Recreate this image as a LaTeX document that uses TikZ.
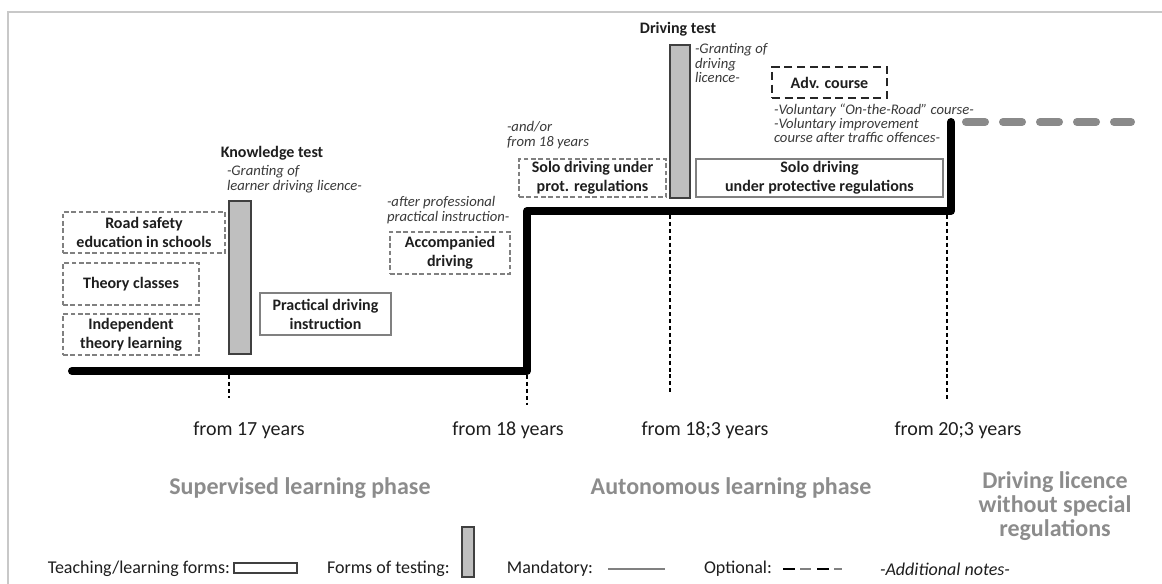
\documentclass[tikz,border=0pt]{standalone}
\usepackage{fontspec}
\setmainfont{Carlito}
\usetikzlibrary{fit}
\definecolor{framegray}{HTML}{C8C8C8}
\definecolor{boxgray}{HTML}{808080}
\definecolor{barfill}{HTML}{BFBFBF}
\definecolor{bardraw}{HTML}{404040}
\definecolor{notegray}{HTML}{3A3A3A}
\definecolor{phasegray}{HTML}{8C8C8C}
\definecolor{dashgray}{HTML}{8A8A8A}
\definecolor{txtdark}{HTML}{1E1E1E}
\begin{document}
\begin{tikzpicture}[x=0.75pt,y=-0.75pt,
  every node/.style={inner sep=0pt, outer sep=0pt},
  solidbox/.style={draw=boxgray, line width=0.9pt, fill=white},
  dashbox/.style={draw=boxgray, line width=0.9pt, dash pattern=on 3.5pt off 2pt},
  advbox/.style={draw=black!85, line width=1.3pt, dash pattern=on 6pt off 3.5pt},
  testbar/.style={draw=bardraw, line width=0.9pt, fill=barfill},
  boxtext/.style={font=\bfseries\fontsize{12}{14.25}\selectfont, align=center, text=txtdark},
  headtext/.style={font=\bfseries\fontsize{12}{14}\selectfont, text=txtdark},
  notetext/.style={font=\itshape\fontsize{11}{10.8}\selectfont, align=left, text=notegray, anchor=north west},
  agetext/.style={font=\fontsize{15}{18}\selectfont, text=txtdark},
  phasetext/.style={font=\bfseries\fontsize{18}{18}\selectfont, text=phasegray, align=center},
  legtext/.style={font=\fontsize{13.5}{15}\selectfont, text=txtdark},
  legnote/.style={font=\itshape\fontsize{13.5}{15}\selectfont, text=txtdark},
  steppath/.style={line width=6pt, black, line cap=round, line join=round},
  optpath/.style={line width=6pt, dashgray, line cap=round, dash pattern=on 14.25pt off 13.5pt},
  tickline/.style={line width=0.9pt, black, dash pattern=on 3pt off 2.2pt}]

\useasboundingbox (0,0) rectangle (1162,584);
\fill[white] (0,0) rectangle (1162,584);
\draw[framegray, line width=1.2pt] (8,584) -- (8,12) -- (1162,12);

% step line
\coordinate (s0) at (72,371);
\coordinate (s1) at (527,371);
\coordinate (s2) at (527,211);
\coordinate (s3) at (951,211);
\coordinate (s4) at (951,122);
\draw[steppath] (s0) -- (s1) -- (s2) -- (s3) -- (s4);
\coordinate (o0) at (966,122);
\coordinate (o1) at (1131,122);
\draw[optpath] (o0) -- (o1);

% ticks
\coordinate (t17a) at (229,375); \coordinate (t17b) at (229,398);
\coordinate (t18a) at (527,375); \coordinate (t18b) at (527,405);
\coordinate (t183a) at (670,215); \coordinate (t183b) at (670,395);
\coordinate (t203a) at (947,215); \coordinate (t203b) at (947,400);
\draw[tickline] (t17a) -- (t17b);
\draw[tickline] (t18a) -- (t18b);
\draw[tickline] (t183a) -- (t183b);
\draw[tickline] (t203a) -- (t203b);

% boxes
\node[dashbox, fit={(63,212) (225,253)}] (rs) {};
\node[boxtext] (rst) at (rs.center) {Road safety\\education in schools};
\node[dashbox, fit={(63,263) (199,305)}] (th) {};
\node[boxtext] (tht) at (th.center) {Theory classes};
\node[dashbox, fit={(63,314) (199,355)}] (ind) {};
\node[boxtext] (indt) at (ind.center) {Independent\\theory learning};
\node[testbar, fit={(229,201) (251,354)}] (kt) {};
\node[headtext] (ktl) at (272,153) {Knowledge test};
\node[notetext] (ktn) at (227,165.5) {-Granting of\\learner driving licence-};
\node[solidbox, fit={(260,293) (391,335)}] (pr) {};
\node[boxtext] (prt) at (pr.center) {Practical driving\\instruction};
\node[notetext] (acn) at (387,196.5) {-after professional\\practical instruction-};
\node[dashbox, fit={(390,232) (510,274)}] (ac) {};
\node[boxtext] (act) at (ac.center) {Accompanied\\driving};
\node[notetext] (spn) at (507,121.5) {-and/or\\from 18 years};
\node[dashbox, fit={(519,159) (666,197)}] (sp) {};
\node[boxtext] (spt) at (sp.center) {Solo driving under\\prot. regulations};
\node[testbar, fit={(670,45) (690,198)}] (dt) {};
\node[headtext] (dtl) at (678,29) {Driving test};
\node[notetext] (dtn) at (695,43.5) {-Granting of\\driving\\licence-};
\node[advbox, fit={(772,67) (887,98)}] (adv) {};
\node[boxtext] (advt) at (adv.center) {Adv. course};
\node[notetext] (advn) at (774,103.5) {-Voluntary ``On-the-Road'' course-\\-Voluntary improvement\\course after traffic offences-};
\node[solidbox, fit={(696,159) (943,197)}] (spr) {};
\node[boxtext] (sprt) at (spr.center) {Solo driving\\under protective regulations};

% ages
\node[agetext] (a17) at (249,430) {from 17 years};
\node[agetext] (a18) at (508,430) {from 18 years};
\node[agetext] (a183) at (705,430) {from 18;3 years};
\node[agetext] (a203) at (958,430) {from 20;3 years};

% phases
\node[phasetext] (p1) at (300,488) {Supervised learning phase};
\node[phasetext] (p2) at (731,488) {Autonomous learning phase};
\node[phasetext] (p3) at (1055,506) {Driving licence\\without special\\regulations};

% legend
\node[legtext, anchor=east] (l1) at (230,569) {Teaching/learning forms:};
\node[draw=bardraw, line width=0.9pt, fill=white, fit={(234,563) (297,573)}] (l1b) {};
\node[legtext, anchor=west] (l2) at (327,569) {Forms of testing:};
\node[testbar, fit={(462,527) (474,577)}] (l2b) {};
\node[legtext, anchor=east] (l3) at (593,569) {Mandatory:};
\coordinate (m0) at (608,569); \coordinate (m1) at (665,569);
\draw[boxgray, line width=1.2pt] (m0) -- (m1);
\node[legtext, anchor=west] (l4) at (704,569) {Optional:};
\coordinate (d0) at (783,569); \coordinate (d1) at (795,569);
\coordinate (d2) at (800,569); \coordinate (d3) at (811,569);
\coordinate (d4) at (817,569); \coordinate (d5) at (829,569);
\coordinate (d6) at (834,569); \coordinate (d7) at (842,569);
\draw[black, line width=2.2pt] (d0) -- (d1);
\draw[boxgray, line width=1pt] (d2) -- (d3);
\draw[black, line width=2.2pt] (d4) -- (d5);
\draw[boxgray, line width=1pt] (d6) -- (d7);
\node[legnote, anchor=west] (l5) at (880,569) {-Additional notes-};
\end{tikzpicture}
\end{document}
